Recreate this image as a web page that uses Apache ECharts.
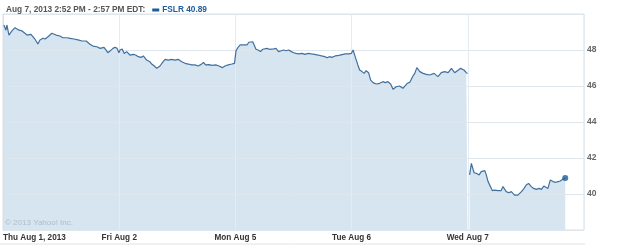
<!DOCTYPE html>
<html><head><meta charset="utf-8">
<script src="https://cdn.jsdelivr.net/npm/echarts@6/dist/echarts.min.js"></script>
<style>html,body{margin:0;padding:0;background:#fff}#c{width:625px;height:246px}</style>
</head><body><div id="c"></div>
<script>
// Trading day labels
var dayLabels = ['Thu Aug 1, 2013', 'Fri Aug 2', 'Mon Aug 5', 'Tue Aug 6', 'Wed Aug 7'];
var yTicks = [40, 42, 44, 46, 48];
var titleText = 'Aug 7, 2013 2:52 PM - 2:57 PM EDT:';
var seriesName = 'FSLR';
var lastPrice = 40.89;
var sessionMinutes = 390; // 9:30 - 16:00

// minutes since 9:30 open, and price, per day
var thuMin = [3,10,13,20,30,40,54,64,70,81,94,107,117,124,134,141,151,164,178,191,201,215,225,238,252,265,279,292,302,315,326,339,352,359,369,376,383,389];
var thuVal = [49.39,49.1,49.39,48.83,49.06,49.24,49.1,49.06,49.1,48.83,48.87,48.61,48.33,48.56,48.65,48.61,48.74,48.93,48.83,48.78,48.68,48.68,48.65,48.61,48.56,48.5,48.5,48.32,48.22,48.18,48.09,48.15,47.85,47.94,48.09,48.15,48.09,47.85];

var friMin = [3,10,17,25,36,47,55,64,73,81,92,103,109,118,126,131,137,145,154,165,176,187,198,210,221,232,243,254,265,275,283,290,301,312,324,335,346,355,366,378,387];
var friVal = [48.0,48.06,47.81,47.91,47.72,47.76,47.72,47.63,47.59,47.67,47.44,47.35,47.22,47.11,46.98,46.93,47.11,47.3,47.48,47.44,47.48,47.44,47.48,47.35,47.26,47.22,47.17,47.17,47.11,47.2,47.31,47.17,47.19,47.15,47.17,47.11,47.02,47.11,47.17,47.22,47.26];

var monMin = [2,9,16,22,28,33,39,45,50,58,63,69,76,84,92,98,106,114,120,129,136,145,154,162,170,179,188,196,203,212,224,233,244,255,266,277,289,300,308,315,324,335,347,358,369,380,389];
var monVal = [47.95,48.15,48.28,48.37,48.28,48.37,48.28,48.43,48.46,48.46,48.28,48.04,48.0,47.91,48.04,48.0,48.09,48.04,48.09,48.06,48.09,47.91,47.96,48.0,47.96,48.0,47.91,47.85,47.81,47.78,47.81,47.76,47.81,47.78,47.76,47.72,47.67,47.63,47.57,47.63,47.59,47.67,47.7,47.74,47.78,47.78,47.81];

var tueMin = [5,12,21,27,35,42,49,57,64,72,83,94,105,113,122,131,139,150,161,172,178,187,195,206,212,219,229,240,251,262,277,290,301,312,324,335,346,355,366,377,385,389];
var tueVal = [48.0,47.63,47.17,46.89,46.8,46.7,46.85,46.74,46.33,46.19,46.11,46.15,46.24,46.19,46.24,46.11,45.82,45.96,46.0,45.87,45.82,46.15,46.2,46.56,46.7,47.02,46.8,46.7,46.65,46.61,46.7,46.52,46.74,46.8,46.74,46.98,46.74,46.85,46.98,46.89,46.74,46.7];

var wedMin = [6,12,15,21,29,38,45,51,57,62,68,76,82,90,101,112,118,124,129,138,146,152,157,163,168,180,189,196,204,208,213,221,230,239,247,255,261,269,277,286,295,303,310,319,327];
var wedVal = [41.06,41.7,41.8,41.18,41.15,41.06,41.24,41.15,41.3,41.06,40.69,40.41,40.19,40.22,40.19,40.19,40.41,40.3,40.13,40.07,40.13,40.04,39.94,39.89,39.94,40.13,40.31,40.5,40.59,40.69,40.41,40.31,40.26,40.31,40.26,40.44,40.41,40.31,40.78,40.69,40.65,40.69,40.72,40.82,40.89];

var days = [[thuMin, thuVal], [friMin, friVal], [monMin, monVal], [tueMin, tueVal], [wedMin, wedVal]];
var pts = [];
days.forEach(function (d, i) {
  if (i === 4) pts.push([4, '-']); // overnight gap before Wed
  d[0].forEach(function (m, j) { pts.push([i + m / sessionMinutes, d[1][j]]); });
});
var lastPt = pts[pts.length - 1];

var font = "'Liberation Sans', Arial, sans-serif";
var chart = echarts.init(document.getElementById('c'), null, {renderer: 'canvas'});
chart.setOption({
  animation: false,
  backgroundColor: '#ffffff',
  title: {
    left: 1, top: 1,
    text: '{a|' + titleText + '}{m|}{b|' + seriesName + ' ' + lastPrice.toFixed(2) + '}',
    textStyle: {
      rich: {
        a: {fontFamily: font, fontWeight: 'bold', fontSize: 8.3, color: '#555555', padding: [0, 7, 0, 0]},
        m: {width: 7, height: 3, backgroundColor: '#1d5c99'},
        b: {fontFamily: font, fontWeight: 'bold', fontSize: 8.3, color: '#1d5c99', padding: [0, 0, 0, 3]}
      }
    }
  },
  grid: {left: 3, right: 41, top: 14, bottom: 16, show: true, borderColor: '#d8e0e7', borderWidth: 1, backgroundColor: 'transparent'},
  xAxis: {
    type: 'value', min: 0, max: 5, interval: 1, z: 2,
    axisLine: {show: false}, axisTick: {show: false},
    splitLine: {show: true, lineStyle: {color: '#e4ebf1', width: 1}},
    axisLabel: {
      showMaxLabel: false, alignMinLabel: 'left', margin: 4,
      fontFamily: font, fontWeight: 'bold', fontSize: 8.2, color: '#333333',
      formatter: function (v) { return dayLabels[Math.round(v)] || ''; }
    }
  },
  yAxis: {
    type: 'value', position: 'right', min: 38, max: 50, interval: 2, z: 2,
    axisLine: {show: true, lineStyle: {color: '#d8e0e7'}},
    axisTick: {show: true, length: 2, lineStyle: {color: '#d8e0e7'}},
    splitLine: {show: true, lineStyle: {color: '#dfe7ee', width: 1}},
    axisLabel: {
      showMinLabel: false, showMaxLabel: false, margin: 3,
      fontFamily: font, fontWeight: 'bold', fontSize: 8.5, color: '#666666',
      formatter: function (v) { return yTicks.indexOf(v) >= 0 ? String(v) : ''; }
    }
  },
  series: [
    {type: 'line', data: pts, z: 1, showSymbol: false, symbol: 'none',
     lineStyle: {width: 0, opacity: 0}, areaStyle: {color: '#d6e5f0', opacity: 1}, silent: true},
    {type: 'line', data: pts, z: 3, showSymbol: false, symbol: 'none',
     lineStyle: {width: 1.2, color: '#41709f'}, silent: true},
    {type: 'scatter', data: [lastPt], z: 4, symbolSize: 6, itemStyle: {color: '#1d5c99'}, silent: true}
  ],
  graphic: [
    {type: 'text', left: 5, top: 219, z: 5, style: {text: '\u00a9 2013 Yahoo! Inc.', fontFamily: font, fontSize: 8, fill: '#aebdc9'}},
    {type: 'line', z: 5, shape: {x1: 0, y1: 244, x2: 585, y2: 244}, style: {stroke: '#e2e2e2', lineWidth: 1}}
  ]
});
</script></body></html>
